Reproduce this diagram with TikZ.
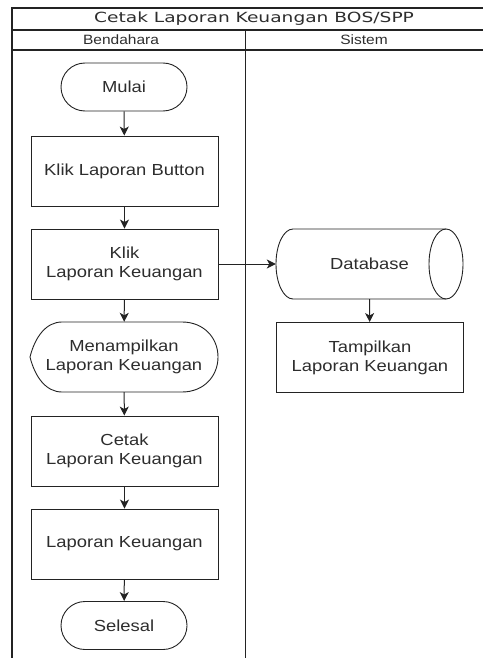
\documentclass[tikz,border=0pt]{standalone}
\usepackage{fontspec}
\usetikzlibrary{arrows.meta,shapes.misc}
\newfontfamily\bodyfont[FakeStretch=1.15]{Liberation Sans}
\newfontfamily\titlefont[FakeStretch=1.33]{DejaVu Sans}
\definecolor{ink}{RGB}{35,35,35}
\definecolor{txt}{RGB}{45,45,45}
\begin{document}
\begin{tikzpicture}[x=1bp,y=-1bp,
  every node/.style={font=\bodyfont\fontsize{16bp}{19bp}\selectfont, text=txt, align=center},
  procbox/.style={draw=ink, line width=0.9bp, minimum width=187bp, minimum height=70bp, inner sep=0pt},
  termbox/.style={draw=ink, line width=0.9bp, rounded rectangle, minimum width=126bp, minimum height=48bp, inner sep=0pt},
  ghost/.style={draw=none, minimum width=188bp, minimum height=70bp, inner sep=0pt},
  flow/.style={draw=ink, line width=1bp, -{Stealth[length=9bp,width=9bp,inset=2.5bp]}},
  lane/.style={draw=ink, line width=1.3bp},
  outline/.style={draw=ink, line width=0.9bp},
  headtext/.style={font=\bodyfont\fontsize{13.5bp}{15bp}\selectfont, text=txt},
  titletext/.style={font=\titlefont\fontsize{14bp}{16bp}\selectfont, text=txt}]
\useasboundingbox (0,0) rectangle (483,658);
% swimlane frame
\draw[lane] (483,8) -- (12,8) -- (12,658);
\draw[lane] (12,30) -- (483,30);
\draw[lane] (12,50) -- (483,50);
\draw[lane] (245.5,30) -- (245.5,658);
\node[titletext] (title) at (254,19) {Cetak Laporan Keuangan BOS/SPP};
\node[headtext] (hbend) at (121,40) {Bendahara};
\node[headtext] (hsis) at (364,40) {Sistem};
% Bendahara lane
\node[termbox] (mulai) at (124,87) {Mulai};
\node[procbox] (klikbtn) at (124.5,171) {Klik Laporan Button};
\node[procbox] (klikku) at (124.5,264) {Klik\\Laporan Keuangan};
\draw[outline] (30,357) .. controls (35,337) and (46,322) .. (62,322) -- (182,322)
  .. controls (204,322) and (218,338) .. (218,357)
  .. controls (218,376) and (204,392) .. (182,392) -- (62,392)
  .. controls (46,392) and (35,377) .. cycle;
\node[ghost] (disp) at (124,357) {Menampilkan\\Laporan Keuangan};
\node[procbox] (cetak) at (124.5,451) {Cetak\\Laporan Keuangan};
\node[procbox] (lapku) at (124.5,544) {Laporan Keuangan};
\node[termbox] (selesai) at (124,625.5) {Selesal};
% Sistem lane: horizontal cylinder
\draw[outline] (293,229) -- (446,229) arc[start angle=-90, end angle=90, x radius=17, y radius=35]
  -- (293,299) arc[start angle=90, end angle=270, x radius=17, y radius=35] -- cycle;
\draw[outline] (446,229) arc[start angle=270, end angle=90, x radius=17, y radius=35];
\node[ghost, minimum width=187bp] (db) at (369.5,264) {Database};
\node[procbox] (tampil) at (370,357.5) {Tampilkan\\Laporan Keuangan};
% connectors
\draw[flow] (mulai) -- (klikbtn);
\draw[flow] (klikbtn) -- (klikku);
\draw[flow] (klikku) -- (disp);
\draw[flow] (disp) -- (cetak);
\draw[flow] (cetak) -- (lapku);
\draw[flow] (lapku) -- (selesai);
\draw[flow] (klikku.east) -- (db.west);
\draw[flow] (db.south) -- (tampil);
\end{tikzpicture}
\end{document}
